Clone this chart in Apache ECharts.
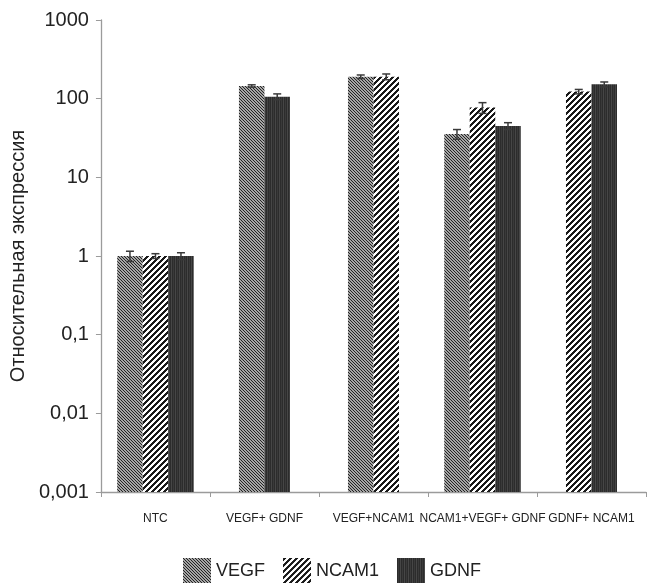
<!DOCTYPE html>
<html><head><meta charset="utf-8">
<script src="https://cdn.jsdelivr.net/npm/echarts@6/dist/echarts.min.js"></script>
<style>html,body{margin:0;padding:0;background:#fff}#c{width:653px;height:583px}</style>
</head><body><div id="c"></div>
<script>
const categories = ['NTC', 'VEGF+ GDNF', 'VEGF+NCAM1', 'NCAM1+VEGF+ GDNF', 'GDNF+ NCAM1'];
const seriesNames = ['VEGF', 'NCAM1', 'GDNF'];
const vegf  = [1.0, 145, 190, 35.5, null];
const ncam1 = [1.0, null, 190, 77, 123];
const gdnf  = [1.0, 106, null, 45, 152];
const vegfErr  = [0.15, 5, 10, 5, null];
const ncam1Err = [0.07, null, 16, 12, 8];
const gdnfErr  = [0.10, 9, null, 4.5, 11];
const yTickLabels = ['0,001', '0,01', '0,1', '1', '10', '100', '1000'];
const yAxisName = 'Относительная экспрессия';

const valuesByGene = [vegf, ncam1, gdnf];
const errsByGene = [vegfErr, ncam1Err, gdnfErr];

function pixelPattern(w, h, colorFn) {
  const c = document.createElement('canvas');
  c.width = w; c.height = h;
  const ctx = c.getContext('2d');
  const img = ctx.createImageData(w, h);
  for (let y = 0; y < h; y++) for (let x = 0; x < w; x++) {
    const v = colorFn(x, y); const p = (y * w + x) * 4;
    img.data[p] = v; img.data[p + 1] = v; img.data[p + 2] = v; img.data[p + 3] = 255;
  }
  ctx.putImageData(img, 0, 0);
  return { image: c, repeat: 'repeat' };
}
const patterns = [
  pixelPattern(3, 3, (x, y) => (((x - y) % 3 + 3) % 3 === 0) ? 35 : 165),
  pixelPattern(6, 6, (x, y) => ((x + y) % 6 < 3) ? 25 : 255),
  pixelPattern(4, 1, (x) => [44, 58, 44, 70][x])
];

function makeRender(g) {
  return function (params, api) {
    const i = api.value(0), v = api.value(1), e = api.value(2);
    const present = [0, 1, 2].filter(k => valuesByGene[k][i] != null);
    const slot = present.indexOf(g);
    const band = api.coord([1, 1])[0] - api.coord([0, 1])[0];
    const bw = band * 0.234;
    const top = api.coord([i, v]);
    const base = api.coord([i, 0.001]);
    const x0 = top[0] - present.length * bw / 2 + slot * bw;
    const cx = x0 + bw / 2;
    const children = [{
      type: 'rect',
      shape: { x: x0, y: top[1], width: bw, height: base[1] - top[1] },
      style: { fill: patterns[g] }
    }];
    if (isFinite(e) && e > 0) {
      const yt = api.coord([i, v + e])[1], yb = api.coord([i, v - e])[1];
      const st = { stroke: '#3a3a3a', lineWidth: 1.5 };
      children.push({ type: 'line', shape: { x1: cx, y1: yt, x2: cx, y2: yb }, style: st });
      children.push({ type: 'line', shape: { x1: cx - 4, y1: yt, x2: cx + 4, y2: yt }, style: st });
      children.push({ type: 'line', shape: { x1: cx - 4, y1: yb, x2: cx + 4, y2: yb }, style: st });
    }
    return { type: 'group', children };
  };
}

const series = seriesNames.map((name, g) => ({
  name, type: 'custom',
  renderItem: makeRender(g),
  itemStyle: { color: patterns[g] },
  encode: { x: 0, y: 1 },
  data: valuesByGene[g].map((v, i) => v == null ? null : [i, v, errsByGene[g][i]]).filter(d => d)
}));

const chart = echarts.init(document.getElementById('c'), null, { renderer: 'canvas' });
chart.setOption({
  backgroundColor: '#fff',
  animation: false,
  grid: { left: 95, right: 7, top: 20, bottom: 91 },
  legend: {
    data: seriesNames, left: 178, top: 553, icon: 'rect',
    itemWidth: 28, itemHeight: 27, itemGap: 18,
    textStyle: { fontFamily: 'Liberation Sans, Arial, sans-serif', fontSize: 18, color: '#222' }
  },
  xAxis: {
    type: 'category', data: categories, boundaryGap: true,
    axisLine: { lineStyle: { color: '#9b9b9b', width: 1.3 } },
    axisTick: { show: true, length: 5, lineStyle: { color: '#9b9b9b' } },
    axisLabel: { interval: 0, margin: 21, fontFamily: 'Liberation Sans, Arial, sans-serif', fontSize: 12, color: '#222' }
  },
  yAxis: {
    type: 'log', logBase: 10, min: 0.001, max: 1000,
    name: yAxisName, nameLocation: 'middle', nameGap: 70,
    nameTextStyle: { fontFamily: 'Liberation Sans, Arial, sans-serif', fontSize: 20, color: '#222' },
    axisLine: { show: true, lineStyle: { color: '#9b9b9b', width: 1.3 } },
    axisTick: { show: true, length: 5, lineStyle: { color: '#9b9b9b' } },
    splitLine: { show: false },
    axisLabel: {
      margin: 12, fontFamily: 'Liberation Sans, Arial, sans-serif', fontSize: 20, color: '#222',
      formatter: v => yTickLabels[Math.round(Math.log10(v)) + 3]
    }
  },
  series
});
</script></body></html>
